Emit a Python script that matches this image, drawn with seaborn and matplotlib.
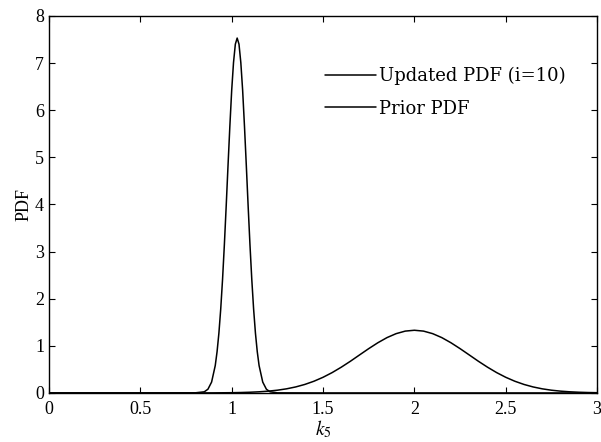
import numpy as np
import pandas as pd
import matplotlib
matplotlib.use("Agg")
import matplotlib.pyplot as plt
import seaborn as sns

# Updated PDF (i=10)
upd_x = [0.0, 0.5, 0.8, 0.85, 0.87, 0.89, 0.91, 0.92, 0.93, 0.94, 0.95, 0.96, 0.97, 0.98, 0.99,
         1.00, 1.01, 1.02, 1.03, 1.04, 1.05, 1.06, 1.07, 1.08, 1.09, 1.10, 1.11, 1.12, 1.13,
         1.14, 1.15, 1.17, 1.19, 1.21, 1.25, 1.5, 2.0, 3.0]
upd_y = [0.0, 0.0, 0.002, 0.024, 0.079, 0.230, 0.580, 0.875, 1.269, 1.78, 2.41, 3.15, 3.97, 4.83, 5.66,
         6.42, 7.01, 7.40, 7.53, 7.40, 7.01, 6.42, 5.66, 4.83, 3.97, 3.15, 2.41, 1.78, 1.269,
         0.875, 0.580, 0.230, 0.079, 0.024, 0.002, 0.0, 0.0, 0.0]

# Prior PDF
prior_x = [0.0, 0.5, 0.8, 0.9, 1.0, 1.05, 1.1, 1.15, 1.2, 1.25, 1.3, 1.35, 1.4, 1.45, 1.5,
           1.55, 1.6, 1.65, 1.7, 1.75, 1.8, 1.85, 1.9, 1.95, 2.0,
           2.05, 2.1, 2.15, 2.2, 2.25, 2.3, 2.35, 2.4, 2.45, 2.5,
           2.55, 2.6, 2.65, 2.7, 2.75, 2.8, 2.85, 2.9, 2.95, 3.0]
prior_y = [0.0, 0.0, 0.0004, 0.0016, 0.0051, 0.0088, 0.0148, 0.024, 0.038, 0.058, 0.087, 0.127, 0.180, 0.248, 0.332,
           0.432, 0.547, 0.673, 0.807, 0.940, 1.065, 1.174, 1.258, 1.312, 1.33,
           1.312, 1.258, 1.174, 1.065, 0.940, 0.807, 0.673, 0.547, 0.432, 0.332,
           0.248, 0.180, 0.127, 0.087, 0.058, 0.038, 0.024, 0.0148, 0.0088, 0.0051]

labels = ["Updated PDF (i=10)", "Prior PDF"]
x_ticks = [0, 0.5, 1, 1.5, 2, 2.5, 3]
x_tick_labels = ["0", "0.5", "1", "1.5", "2", "2.5", "3"]
y_ticks = [0, 1, 2, 3, 4, 5, 6, 7, 8]

df = pd.concat([
    pd.DataFrame({"k5": upd_x, "pdf": upd_y, "series": labels[0]}),
    pd.DataFrame({"k5": prior_x, "pdf": prior_y, "series": labels[1]}),
])

sns.set_style("ticks")
plt.rcParams["font.family"] = ["Liberation Serif", "DejaVu Serif"]
plt.rcParams["mathtext.fontset"] = "stix"
plt.rcParams["xtick.direction"] = "in"
plt.rcParams["ytick.direction"] = "in"
plt.rcParams["text.color"] = "black"
plt.rcParams["axes.labelcolor"] = "black"
plt.rcParams["xtick.color"] = "black"
plt.rcParams["ytick.color"] = "black"

fig = plt.figure(figsize=(6.01, 4.42), dpi=100)
ax = fig.add_axes([0.0815, 0.111, 0.912, 0.853])

sns.lineplot(data=df, x="k5", y="pdf", hue="series", palette=["black", "black"],
             linewidth=1.1, ax=ax, sort=False, estimator=None)

ax.set_xlim(0, 3)
ax.set_ylim(0, 8)
ax.set_xticks(x_ticks)
ax.set_xticklabels(x_tick_labels)
ax.set_yticks(y_ticks)
ax.tick_params(axis="both", labelsize=13, length=4, width=0.8, top=True, right=True,
               color="black", labelcolor="black")
ax.tick_params(axis="x", pad=6)
for s in ax.spines.values():
    s.set_visible(True)
    s.set_linewidth(1.0)
    s.set_color("black")
ax.set_xlabel(r"$k_5$", fontsize=14, labelpad=0, color="black")
ax.set_ylabel("PDF", fontsize=13, labelpad=2, color="black")

leg = ax.legend(loc="upper left", bbox_to_anchor=(0.504, 0.864), frameon=False,
                prop={"family": "DejaVu Serif", "size": 13},
                handlelength=2.8, handletextpad=0.2, labelspacing=0.78,
                borderpad=0, borderaxespad=0)
for t in leg.get_texts():
    t.set_color("black")

fig.savefig("out.png", dpi=100)
